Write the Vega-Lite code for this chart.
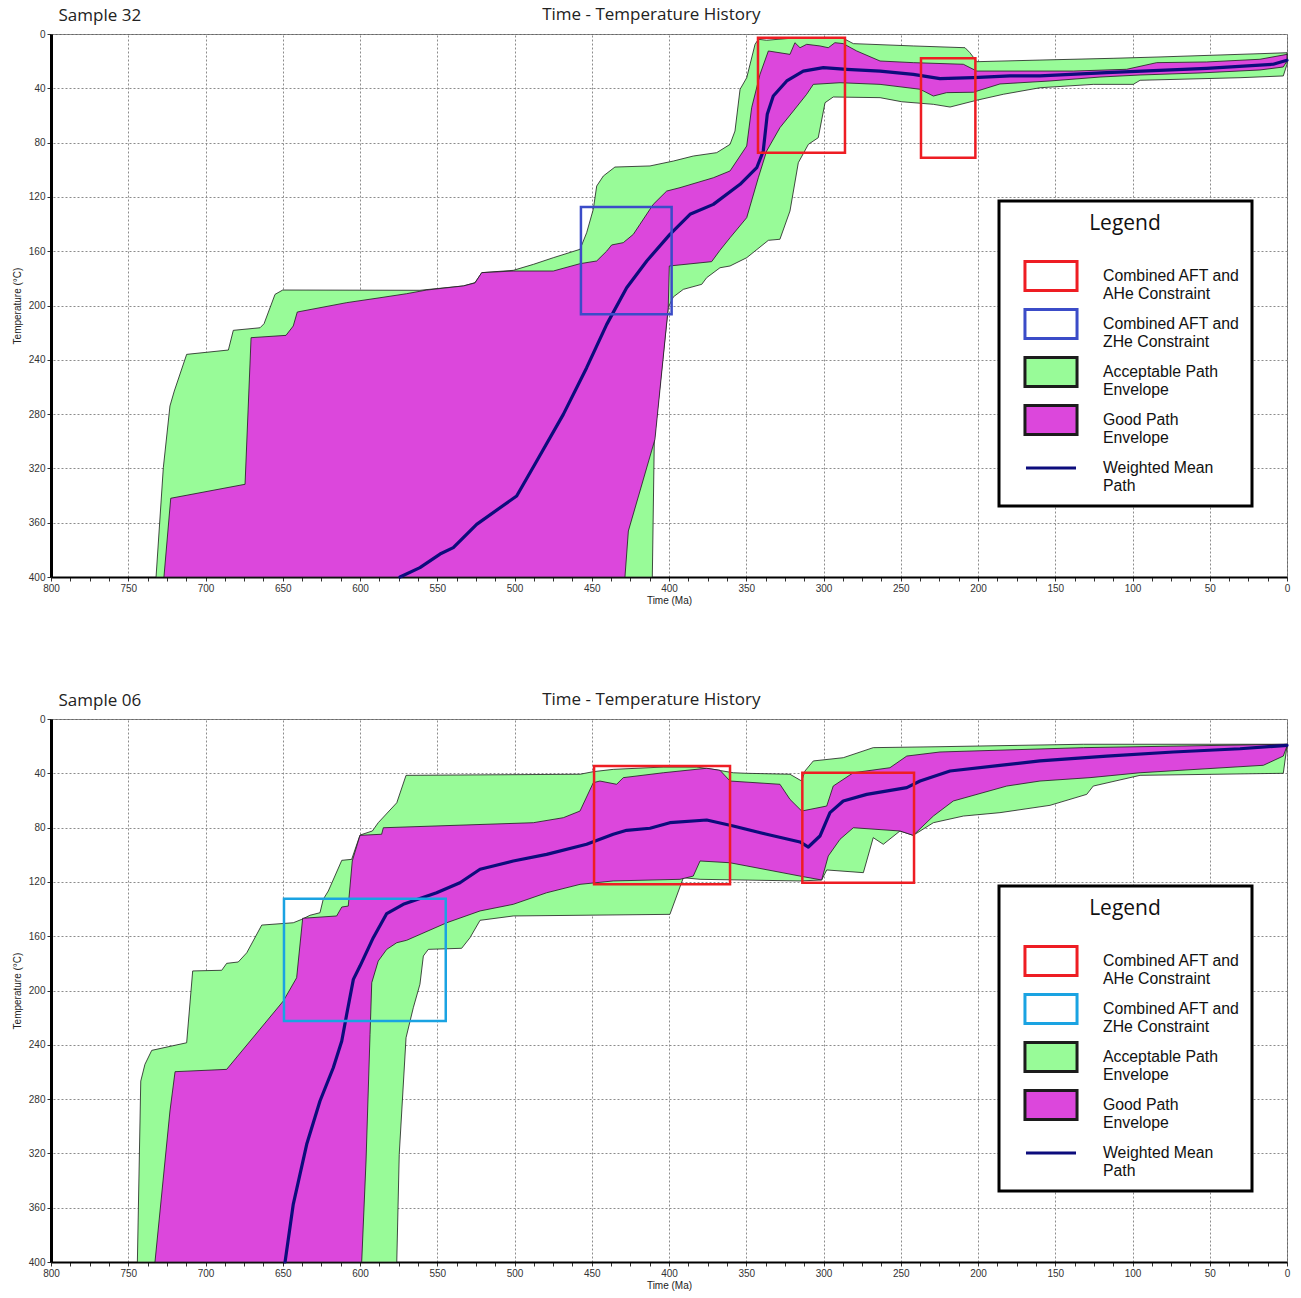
{
  "$schema": "https://vega.github.io/schema/vega-lite/v6.json",
  "background": "white",
  "padding": {"left": 11, "top": 5, "right": 5, "bottom": 5},
  "spacing": 84,
  "datasets": {
    "acceptable32": [
      {"i":0,"time":732.0,"temp":400},{"i":1,"time":727.3,"temp":319.5},{"i":2,"time":723.0,"temp":274.0},{"i":3,"time":720.2,"temp":263.0},
      {"i":4,"time":712.2,"temp":236.0},{"i":5,"time":685.2,"temp":232.8},{"i":6,"time":682.0,"temp":218.3},{"i":7,"time":664.7,"temp":216.4},
      {"i":8,"time":662.1,"temp":213.4},{"i":9,"time":655.0,"temp":191.8},{"i":10,"time":650.0,"temp":188.6},{"i":11,"time":561.2,"temp":188.8},
      {"i":12,"time":533.1,"temp":185.6},{"i":13,"time":525.6,"temp":183.2},{"i":14,"time":521.2,"temp":175.8},{"i":15,"time":500.8,"temp":174.1},
      {"i":16,"time":487.8,"temp":169.7},{"i":17,"time":474.9,"temp":164.8},{"i":18,"time":457.6,"temp":158.6},{"i":19,"time":453.3,"temp":146.4},
      {"i":20,"time":449.0,"temp":129.1},{"i":21,"time":446.8,"temp":112.0},{"i":22,"time":442.5,"temp":104.6},{"i":23,"time":435.0,"temp":98.0},
      {"i":24,"time":412.3,"temp":97.2},{"i":25,"time":397.2,"temp":93.6},{"i":26,"time":384.3,"temp":89.9},{"i":27,"time":369.1,"temp":87.4},
      {"i":28,"time":360.5,"temp":81.3},{"i":29,"time":357.3,"temp":71.5},{"i":30,"time":354.0,"temp":40.7},{"i":31,"time":349.7,"temp":32.2},
      {"i":32,"time":344.3,"temp":7.6},{"i":33,"time":342.2,"temp":3.9},{"i":34,"time":336.8,"temp":4.6},{"i":35,"time":321.7,"temp":3.2},
      {"i":36,"time":287.2,"temp":3.2},{"i":37,"time":280.7,"temp":7.1},{"i":38,"time":241.9,"temp":8.8},{"i":39,"time":208.4,"temp":10.1},
      {"i":40,"time":205.2,"temp":13.8},{"i":41,"time":200.8,"temp":20.4},{"i":42,"time":159.9,"temp":19.2},{"i":43,"time":112.6,"temp":17.9},
      {"i":44,"time":82.2,"temp":16.9},{"i":45,"time":17.5,"temp":14.5},{"i":46,"time":0,"temp":13.8},{"i":47,"time":0,"temp":22.3},
      {"i":48,"time":2.4,"temp":30.9},{"i":49,"time":30.4,"temp":32.2},{"i":50,"time":95.1,"temp":34.1},{"i":51,"time":99.5,"temp":37.1},
      {"i":52,"time":125.4,"temp":37.1},{"i":53,"time":159.9,"temp":39.6},{"i":54,"time":183.6,"temp":44.4},{"i":55,"time":200.8,"temp":48.8},
      {"i":56,"time":218.1,"temp":53.8},{"i":57,"time":228.9,"temp":51.8},{"i":58,"time":249.4,"temp":49.9},{"i":59,"time":263.4,"temp":46.9},
      {"i":60,"time":293.7,"temp":46.4},{"i":61,"time":299.0,"temp":50.6},{"i":62,"time":303.4,"temp":76.4},{"i":63,"time":309.8,"temp":81.3},
      {"i":64,"time":316.3,"temp":94.8},{"i":65,"time":321.7,"temp":130.4},{"i":66,"time":328.2,"temp":151.2},{"i":67,"time":335.7,"temp":152.0},
      {"i":68,"time":349.7,"temp":164.8},{"i":69,"time":360.5,"temp":170.9},{"i":70,"time":367.0,"temp":172.2},{"i":71,"time":375.6,"temp":179.5},
      {"i":72,"time":378.8,"temp":184.4},{"i":73,"time":390.7,"temp":188.1},{"i":74,"time":397.2,"temp":193.7},{"i":75,"time":400.5,"temp":201.6},
      {"i":76,"time":409.5,"temp":298.6},{"i":77,"time":410.8,"temp":400},{"i":78,"time":732.0,"temp":400}
    ],
    "good32": [
      {"i":0,"time":726.9,"temp":400},{"i":1,"time":722.5,"temp":342.0},{"i":2,"time":674.4,"temp":331.7},{"i":3,"time":670.5,"temp":223.7},
      {"i":4,"time":647.9,"temp":222.0},{"i":5,"time":643.2,"temp":215.1},{"i":6,"time":640.6,"temp":204.8},{"i":7,"time":608.6,"temp":197.9},
      {"i":8,"time":587.1,"temp":194.3},{"i":9,"time":569.8,"temp":191.3},{"i":10,"time":556.8,"temp":188.6},{"i":11,"time":533.1,"temp":185.6},
      {"i":12,"time":525.6,"temp":183.4},{"i":13,"time":521.2,"temp":175.8},{"i":14,"time":500.8,"temp":174.6},{"i":15,"time":474.9,"temp":174.6},
      {"i":16,"time":457.6,"temp":169.2},{"i":17,"time":446.8,"temp":167.2},{"i":18,"time":440.3,"temp":159.9},{"i":19,"time":437.1,"temp":155.4},
      {"i":20,"time":429.6,"temp":153.7},{"i":21,"time":423.1,"temp":147.6},{"i":22,"time":418.8,"temp":140.2},{"i":23,"time":410.2,"temp":125.5},
      {"i":24,"time":401.5,"temp":115.7},{"i":25,"time":392.9,"temp":113.2},{"i":26,"time":371.3,"temp":105.9},{"i":27,"time":360.5,"temp":100.9},
      {"i":28,"time":349.7,"temp":82.5},{"i":29,"time":346.5,"temp":54.3},{"i":30,"time":341.1,"temp":29.7},{"i":31,"time":335.7,"temp":12.5},
      {"i":32,"time":321.7,"temp":15.0},{"i":33,"time":318.5,"temp":6.4},{"i":34,"time":315.2,"temp":10.1},{"i":35,"time":310.9,"temp":7.6},
      {"i":36,"time":302.3,"temp":8.8},{"i":37,"time":296.9,"temp":10.1},{"i":38,"time":292.6,"temp":6.4},{"i":39,"time":287.2,"temp":7.1},
      {"i":40,"time":278.5,"temp":12.5},{"i":41,"time":263.4,"temp":19.9},{"i":42,"time":241.9,"temp":21.1},{"i":43,"time":209.5,"temp":22.3},
      {"i":44,"time":200.8,"temp":27.3},{"i":45,"time":138.3,"temp":27.3},{"i":46,"time":103.8,"temp":26.0},{"i":47,"time":84.3,"temp":21.1},
      {"i":48,"time":52.0,"temp":20.6},{"i":49,"time":17.5,"temp":18.6},{"i":50,"time":0,"temp":15.0},{"i":51,"time":0,"temp":19.9},
      {"i":52,"time":2.4,"temp":24.3},{"i":53,"time":17.5,"temp":26.5},{"i":54,"time":56.3,"temp":28.7},{"i":55,"time":95.1,"temp":30.2},
      {"i":56,"time":121.0,"temp":31.7},{"i":57,"time":153.4,"temp":34.6},{"i":58,"time":185.8,"temp":36.8},{"i":59,"time":203.0,"temp":42.9},
      {"i":60,"time":220.3,"temp":43.2},{"i":61,"time":228.9,"temp":45.7},{"i":62,"time":237.5,"temp":40.7},{"i":63,"time":263.4,"temp":37.1},
      {"i":64,"time":289.3,"temp":35.9},{"i":65,"time":306.6,"temp":37.1},{"i":66,"time":310.9,"temp":44.4},{"i":67,"time":319.5,"temp":56.7},
      {"i":68,"time":328.2,"temp":69.0},{"i":69,"time":336.8,"temp":86.2},{"i":70,"time":342.2,"temp":105.9},{"i":71,"time":349.7,"temp":135.3},
      {"i":72,"time":360.5,"temp":150.1},{"i":73,"time":367.0,"temp":159.3},{"i":74,"time":372.4,"temp":167.7},{"i":75,"time":399.8,"temp":170.9},
      {"i":76,"time":400.5,"temp":201.6},{"i":77,"time":409.1,"temp":298.6},{"i":78,"time":426.3,"temp":366.1},{"i":79,"time":428.5,"temp":400},
      {"i":80,"time":726.9,"temp":400}
    ],
    "mean32": [
      {"i":0,"time":574.1,"temp":400},{"i":1,"time":561.2,"temp":393.1},{"i":2,"time":548.2,"temp":383.1},{"i":3,"time":539.6,"temp":378.4},
      {"i":4,"time":524.5,"temp":361.2},{"i":5,"time":498.6,"temp":340.3},{"i":6,"time":485.6,"temp":314.5},{"i":7,"time":468.4,"temp":280.2},
      {"i":8,"time":453.3,"temp":245.8},{"i":9,"time":440.3,"temp":213.9},{"i":10,"time":427.4,"temp":186.9},{"i":11,"time":414.4,"temp":167.2},
      {"i":12,"time":399.4,"temp":147.6},{"i":13,"time":386.4,"temp":132.8},{"i":14,"time":371.3,"temp":125.5},{"i":15,"time":354.0,"temp":110.7},
      {"i":16,"time":343.2,"temp":98.5},{"i":17,"time":339.0,"temp":86.2},{"i":18,"time":336.4,"temp":59.2},{"i":19,"time":332.5,"temp":45.7},
      {"i":20,"time":323.8,"temp":34.6},{"i":21,"time":313.1,"temp":27.3},{"i":22,"time":300.1,"temp":24.8},{"i":23,"time":285.0,"temp":26.0},
      {"i":24,"time":263.4,"temp":27.3},{"i":25,"time":241.9,"temp":29.7},{"i":26,"time":224.6,"temp":32.9},{"i":27,"time":203.0,"temp":32.2},
      {"i":28,"time":179.3,"temp":30.9},{"i":29,"time":159.9,"temp":30.9},{"i":30,"time":116.7,"temp":28.4},{"i":31,"time":52.0,"temp":25.3},
      {"i":32,"time":8.9,"temp":22.3},{"i":33,"time":0,"temp":19.4}
    ],
    "boxes32": [
      {"series":"Combined AFT and AHe Constraint","t1":342.4,"t2":286.1,"T1":2.7,"T2":87.4},
      {"series":"Combined AFT and AHe Constraint","t1":236.9,"t2":201.7,"T1":17.9,"T2":91.1},
      {"series":"Combined AFT and ZHe Constraint","t1":457.0,"t2":398.3,"T1":127.4,"T2":206.5}
    ],
    "acceptable06": [
      {"i":0,"time":744.1,"temp":400},{"i":1,"time":741.9,"temp":266.7},{"i":2,"time":739.2,"temp":254.4},{"i":3,"time":734.8,"temp":244.1},
      {"i":4,"time":712.2,"temp":238.5},{"i":5,"time":708.3,"temp":185.6},{"i":6,"time":689.5,"temp":185.1},{"i":7,"time":686.3,"temp":180.0},
      {"i":8,"time":678.8,"temp":179.0},{"i":9,"time":673.3,"temp":172.2},{"i":10,"time":663.6,"temp":151.8},{"i":11,"time":643.2,"temp":150.1},
      {"i":12,"time":637.7,"temp":147.6},{"i":13,"time":632.4,"temp":144.6},{"i":14,"time":625.9,"temp":142.7},{"i":15,"time":623.8,"temp":132.8},
      {"i":16,"time":620.5,"temp":126.7},{"i":17,"time":611.8,"temp":104.1},{"i":18,"time":605.4,"temp":103.4},{"i":19,"time":600.0,"temp":85.5},
      {"i":20,"time":592.0,"temp":82.5},{"i":21,"time":588.2,"temp":76.4},{"i":22,"time":576.2,"temp":61.7},{"i":23,"time":570.2,"temp":41.5},
      {"i":24,"time":457.6,"temp":40.7},{"i":25,"time":449.0,"temp":38.8},{"i":26,"time":436.1,"temp":37.1},{"i":27,"time":403.7,"temp":35.4},
      {"i":28,"time":382.1,"temp":35.4},{"i":29,"time":371.3,"temp":37.1},{"i":30,"time":358.4,"temp":39.6},{"i":31,"time":349.7,"temp":40.0},
      {"i":32,"time":321.7,"temp":40.7},{"i":33,"time":314.1,"temp":45.7},{"i":34,"time":312.0,"temp":38.3},{"i":35,"time":306.6,"temp":30.9},
      {"i":36,"time":287.2,"temp":28.5},{"i":37,"time":267.8,"temp":21.1},{"i":38,"time":224.6,"temp":20.4},{"i":39,"time":131.8,"temp":18.6},
      {"i":40,"time":0,"temp":18.6},{"i":41,"time":0,"temp":19.9},{"i":42,"time":2.4,"temp":40.0},{"i":43,"time":95.1,"temp":41.5},
      {"i":44,"time":125.4,"temp":49.4},{"i":45,"time":129.6,"temp":55.5},{"i":46,"time":153.4,"temp":63.6},{"i":47,"time":185.8,"temp":69.0},
      {"i":48,"time":209.5,"temp":71.5},{"i":49,"time":228.9,"temp":76.4},{"i":50,"time":241.9,"temp":85.7},{"i":51,"time":250.5,"temp":82.5},
      {"i":52,"time":261.3,"temp":92.3},{"i":53,"time":267.8,"temp":87.4},{"i":54,"time":274.2,"temp":113.2},{"i":55,"time":297.9,"temp":111.2},
      {"i":56,"time":301.2,"temp":118.6},{"i":57,"time":315.2,"temp":119.3},{"i":58,"time":379.9,"temp":118.1},{"i":59,"time":390.7,"temp":116.9},
      {"i":60,"time":399.4,"temp":143.9},{"i":61,"time":500.8,"temp":145.1},{"i":62,"time":522.3,"temp":148.3},{"i":63,"time":528.8,"temp":161.1},
      {"i":64,"time":534.2,"temp":168.9},{"i":65,"time":555.8,"temp":169.7},{"i":66,"time":559.0,"temp":174.6},{"i":67,"time":561.2,"temp":195.4},
      {"i":68,"time":565.5,"temp":212.7},{"i":69,"time":570.2,"temp":234.8},{"i":70,"time":574.6,"temp":320.7},{"i":71,"time":576.2,"temp":400},
      {"i":72,"time":744.1,"temp":400}
    ],
    "good06": [
      {"i":0,"time":732.7,"temp":400},{"i":1,"time":723.0,"temp":288.8},{"i":2,"time":719.7,"temp":259.8},{"i":3,"time":686.3,"temp":258.1},
      {"i":4,"time":649.6,"temp":207.7},{"i":5,"time":641.0,"temp":190.6},{"i":6,"time":637.1,"temp":146.8},{"i":7,"time":615.1,"temp":145.1},
      {"i":8,"time":611.8,"temp":138.5},{"i":9,"time":607.6,"temp":137.8},{"i":10,"time":605.0,"temp":104.6},{"i":11,"time":600.0,"temp":85.7},
      {"i":12,"time":586.0,"temp":84.9},{"i":13,"time":584.9,"temp":80.1},{"i":14,"time":487.8,"temp":76.4},{"i":15,"time":468.4,"temp":72.7},
      {"i":16,"time":457.6,"temp":67.8},{"i":17,"time":449.0,"temp":46.9},{"i":18,"time":444.7,"temp":45.7},{"i":19,"time":433.9,"temp":48.1},
      {"i":20,"time":429.6,"temp":43.2},{"i":21,"time":403.7,"temp":39.6},{"i":22,"time":375.6,"temp":36.3},{"i":23,"time":367.0,"temp":37.8},
      {"i":24,"time":360.5,"temp":45.7},{"i":25,"time":328.2,"temp":48.1},{"i":26,"time":321.7,"temp":59.2},{"i":27,"time":314.1,"temp":67.8},
      {"i":28,"time":297.9,"temp":64.1},{"i":29,"time":293.7,"temp":49.4},{"i":30,"time":280.7,"temp":39.6},{"i":31,"time":257.0,"temp":35.9},
      {"i":32,"time":246.1,"temp":27.3},{"i":33,"time":224.6,"temp":24.3},{"i":34,"time":131.8,"temp":21.1},{"i":35,"time":0,"temp":18.6},
      {"i":36,"time":0,"temp":19.9},{"i":37,"time":2.4,"temp":27.3},{"i":38,"time":15.3,"temp":34.1},{"i":39,"time":95.1,"temp":39.6},
      {"i":40,"time":127.5,"temp":43.2},{"i":41,"time":159.9,"temp":45.7},{"i":42,"time":181.4,"temp":49.4},{"i":43,"time":216.0,"temp":60.4},
      {"i":44,"time":228.9,"temp":71.5},{"i":45,"time":241.9,"temp":85.7},{"i":46,"time":250.5,"temp":82.5},{"i":47,"time":280.7,"temp":80.1},
      {"i":48,"time":289.3,"temp":88.6},{"i":49,"time":296.9,"temp":100.9},{"i":50,"time":301.2,"temp":118.6},{"i":51,"time":315.2,"temp":115.7},
      {"i":52,"time":360.5,"temp":105.9},{"i":53,"time":379.9,"temp":104.6},{"i":54,"time":384.3,"temp":115.7},{"i":55,"time":392.9,"temp":118.1},
      {"i":56,"time":436.1,"temp":119.3},{"i":57,"time":457.6,"temp":121.8},{"i":58,"time":479.2,"temp":128.0},{"i":59,"time":500.8,"temp":136.5},
      {"i":60,"time":522.3,"temp":141.4},{"i":61,"time":543.9,"temp":150.1},{"i":62,"time":569.8,"temp":163.0},{"i":63,"time":576.2,"temp":164.8},
      {"i":64,"time":582.7,"temp":169.7},{"i":65,"time":588.2,"temp":178.3},{"i":66,"time":592.4,"temp":194.3},{"i":67,"time":593.5,"temp":232.3},
      {"i":68,"time":596.1,"temp":325.6},{"i":69,"time":598.9,"temp":400},{"i":70,"time":732.7,"temp":400}
    ],
    "mean06": [
      {"i":0,"time":648.5,"temp":400},{"i":1,"time":643.2,"temp":357.5},{"i":2,"time":634.5,"temp":313.3},{"i":3,"time":625.9,"temp":281.4},
      {"i":4,"time":617.3,"temp":256.9},{"i":5,"time":611.8,"temp":237.2},{"i":6,"time":608.6,"temp":217.5},{"i":7,"time":604.3,"temp":191.8},
      {"i":8,"time":600.0,"temp":182.0},{"i":9,"time":591.4,"temp":161.1},{"i":10,"time":582.7,"temp":143.3},{"i":11,"time":572.0,"temp":136.5},
      {"i":12,"time":550.4,"temp":128.0},{"i":13,"time":535.3,"temp":120.6},{"i":14,"time":522.3,"temp":110.7},{"i":15,"time":500.8,"temp":104.6},
      {"i":16,"time":479.2,"temp":99.7},{"i":17,"time":453.3,"temp":92.3},{"i":18,"time":436.1,"temp":84.9},{"i":19,"time":427.4,"temp":82.0},
      {"i":20,"time":412.3,"temp":80.5},{"i":21,"time":399.4,"temp":76.4},{"i":22,"time":375.6,"temp":74.4},{"i":23,"time":358.4,"temp":78.8},
      {"i":24,"time":336.8,"temp":84.9},{"i":25,"time":315.2,"temp":90.6},{"i":26,"time":309.8,"temp":94.3},{"i":27,"time":302.3,"temp":86.2},
      {"i":28,"time":295.8,"temp":69.0},{"i":29,"time":287.2,"temp":60.4},{"i":30,"time":272.0,"temp":55.5},{"i":31,"time":246.1,"temp":50.6},
      {"i":32,"time":237.5,"temp":45.7},{"i":33,"time":218.1,"temp":38.3},{"i":34,"time":185.8,"temp":34.1},{"i":35,"time":159.9,"temp":30.9},
      {"i":36,"time":116.7,"temp":27.3},{"i":37,"time":73.6,"temp":24.3},{"i":38,"time":30.4,"temp":21.9},{"i":39,"time":0,"temp":19.4}
    ],
    "boxes06": [
      {"series":"Combined AFT and ZHe Constraint","t1":649.2,"t2":544.5,"T1":132.4,"T2":222.5},
      {"series":"Combined AFT and AHe Constraint","t1":448.5,"t2":360.5,"T1":34.6,"T2":121.8},
      {"series":"Combined AFT and AHe Constraint","t1":313.7,"t2":241.4,"T1":39.6,"T2":120.6}
    ]
  },
  "vconcat": [
    {
      "width": 1236,
      "height": 543,
      "title": {"text": "Time - Temperature History", "anchor": "middle", "frame": "bounds", "offset": -18},
      "resolve": {"axis": {"x": "independent"}},
      "layer": [
        {
          "data": {"name": "acceptable32"},
          "mark": {"type": "line", "filled": true},
          "encoding": {
            "order": {"field": "i", "type": "quantitative"},
            "x": {"field": "time", "type": "quantitative", "title": "Time (Ma)",
              "scale": {"domain": [0, 800], "reverse": true, "nice": false, "zero": false},
              "axis": {"values": [0,12.5,25,37.5,50,62.5,75,87.5,100,112.5,125,137.5,150,162.5,175,187.5,200,212.5,225,237.5,250,262.5,275,287.5,300,312.5,325,337.5,350,362.5,375,387.5,400,412.5,425,437.5,450,462.5,475,487.5,500,512.5,525,537.5,550,562.5,575,587.5,600,612.5,625,637.5,650,662.5,675,687.5,700,712.5,725,737.5,750,762.5,775,787.5,800],
                "labelExpr": "datum.value % 50 === 0 ? datum.label : ''",
                "gridOpacity": {"condition": {"test": "datum.value % 50 === 0", "value": 1}, "value": 0},
                "labelOverlap": false, "labelFlush": false}},
            "y": {"field": "temp", "type": "quantitative", "title": "Temperature (°C)",
              "scale": {"domain": [0, 400], "reverse": true, "nice": false, "zero": false},
              "axis": {"values": [0,10,20,30,40,50,60,70,80,90,100,110,120,130,140,150,160,170,180,190,200,210,220,230,240,250,260,270,280,290,300,310,320,330,340,350,360,370,380,390,400],
                "labelExpr": "datum.value % 40 === 0 ? datum.label : ''",
                "gridOpacity": {"condition": {"test": "datum.value % 40 === 0", "value": 1}, "value": 0},
                "labelOverlap": false, "labelFlush": false}},
            "fill": {"datum": "Acceptable Path Envelope", "type": "nominal",
              "scale": {"domain": ["Combined AFT and AHe Constraint", "Combined AFT and ZHe Constraint", "Acceptable Path Envelope", "Good Path Envelope", "Weighted Mean Path"],
                "range": ["#ffffff", "#ffffff", "#98fb98", "#dc47dc", "#ffffff"]},
              "legend": {
                "orient": "none", "legendX": 948, "legendY": 167, "title": "Legend",
                "labelExpr": "datum.label === 'Combined AFT and AHe Constraint' ? ['Combined AFT and', 'AHe Constraint'] : datum.label === 'Combined AFT and ZHe Constraint' ? ['Combined AFT and', 'ZHe Constraint'] : datum.label === 'Acceptable Path Envelope' ? ['Acceptable Path', 'Envelope'] : datum.label === 'Good Path Envelope' ? ['Good Path', 'Envelope'] : ['Weighted Mean', 'Path']"
              }},
            "stroke": {"datum": "Acceptable Path Envelope", "type": "nominal",
              "scale": {"domain": ["Combined AFT and AHe Constraint", "Combined AFT and ZHe Constraint", "Acceptable Path Envelope", "Good Path Envelope", "Weighted Mean Path"],
                "range": ["#ee1d23", "#3b4cc8", "#1c1c1c", "#1c1c1c", "#0c0c7c"]},
              "legend": {
                "orient": "none", "legendX": 948, "legendY": 167, "title": "Legend",
                "labelExpr": "datum.label === 'Combined AFT and AHe Constraint' ? ['Combined AFT and', 'AHe Constraint'] : datum.label === 'Combined AFT and ZHe Constraint' ? ['Combined AFT and', 'ZHe Constraint'] : datum.label === 'Acceptable Path Envelope' ? ['Acceptable Path', 'Envelope'] : datum.label === 'Good Path Envelope' ? ['Good Path', 'Envelope'] : ['Weighted Mean', 'Path']"
              }},
            "strokeWidth": {"value": 0.8}
          }
        },
        {
          "data": {"name": "good32"},
          "mark": {"type": "line", "filled": true},
          "encoding": {
            "order": {"field": "i", "type": "quantitative"},
            "x": {"field": "time", "type": "quantitative", "axis": null},
            "y": {"field": "temp", "type": "quantitative", "title": "Temperature (°C)"},
            "fill": {"datum": "Good Path Envelope", "type": "nominal"},
            "stroke": {"datum": "Good Path Envelope", "type": "nominal"},
            "strokeWidth": {"value": 0.8}
          }
        },
        {
          "data": {"name": "mean32"},
          "mark": {"type": "line", "strokeJoin": "round", "strokeCap": "round"},
          "encoding": {
            "order": {"field": "i", "type": "quantitative"},
            "x": {"field": "time", "type": "quantitative",
              "axis": {"orient": "top", "title": "Sample 32", "titleAnchor": "start", "titleAlign": "left", "titleX": 7, "titleY": -14, "titleBaseline": "alphabetic",
                "titleFont": "Open Sans", "titleFontSize": 17, "titleFontWeight": "normal", "titleColor": "#222",
                "labels": false, "ticks": false, "domain": false, "grid": false}},
            "y": {"field": "temp", "type": "quantitative", "title": "Temperature (°C)"},
            "stroke": {"datum": "Weighted Mean Path", "type": "nominal"},
            "strokeWidth": {"value": 3.2}
          }
        },
        {
          "data": {"name": "boxes32"},
          "mark": {"type": "rect", "filled": false},
          "encoding": {
            "x": {"field": "t1", "type": "quantitative", "axis": null},
            "x2": {"field": "t2"},
            "y": {"field": "T1", "type": "quantitative", "title": "Temperature (°C)"},
            "y2": {"field": "T2"},
            "stroke": {"field": "series", "type": "nominal"},
            "strokeWidth": {"value": 2.5}
          }
        },
        {
          "data": {"name": "mean32"},
          "mark": {"type": "point", "filled": false},
          "encoding": {
            "x": {"field": "time", "type": "quantitative", "axis": null},
            "y": {"field": "temp", "type": "quantitative", "title": "Temperature (°C)"},
            "shape": {"datum": "Weighted Mean Path", "type": "nominal",
              "scale": {"domain": ["Combined AFT and AHe Constraint", "Combined AFT and ZHe Constraint", "Acceptable Path Envelope", "Good Path Envelope", "Weighted Mean Path"],
                "range": ["M-1.27,-0.71H1.27V0.71H-1.27Z", "M-1.27,-0.71H1.27V0.71H-1.27Z", "M-1.27,-0.71H1.27V0.71H-1.27Z", "M-1.27,-0.71H1.27V0.71H-1.27Z", "M-1.22,0H1.22"]},
              "legend": {
                "orient": "none", "legendX": 948, "legendY": 167, "title": "Legend",
                "labelExpr": "datum.label === 'Combined AFT and AHe Constraint' ? ['Combined AFT and', 'AHe Constraint'] : datum.label === 'Combined AFT and ZHe Constraint' ? ['Combined AFT and', 'ZHe Constraint'] : datum.label === 'Acceptable Path Envelope' ? ['Acceptable Path', 'Envelope'] : datum.label === 'Good Path Envelope' ? ['Good Path', 'Envelope'] : ['Weighted Mean', 'Path']"
              }},
            "opacity": {"value": 0}
          }
        }
      ]
    },
    {
      "width": 1236,
      "height": 543,
      "title": {"text": "Time - Temperature History", "anchor": "middle", "frame": "bounds", "offset": -18},
      "resolve": {"axis": {"x": "independent"}},
      "layer": [
        {
          "data": {"name": "acceptable06"},
          "mark": {"type": "line", "filled": true},
          "encoding": {
            "order": {"field": "i", "type": "quantitative"},
            "x": {"field": "time", "type": "quantitative", "title": "Time (Ma)",
              "scale": {"domain": [0, 800], "reverse": true, "nice": false, "zero": false},
              "axis": {"values": [0,12.5,25,37.5,50,62.5,75,87.5,100,112.5,125,137.5,150,162.5,175,187.5,200,212.5,225,237.5,250,262.5,275,287.5,300,312.5,325,337.5,350,362.5,375,387.5,400,412.5,425,437.5,450,462.5,475,487.5,500,512.5,525,537.5,550,562.5,575,587.5,600,612.5,625,637.5,650,662.5,675,687.5,700,712.5,725,737.5,750,762.5,775,787.5,800],
                "labelExpr": "datum.value % 50 === 0 ? datum.label : ''",
                "gridOpacity": {"condition": {"test": "datum.value % 50 === 0", "value": 1}, "value": 0},
                "labelOverlap": false, "labelFlush": false}},
            "y": {"field": "temp", "type": "quantitative", "title": "Temperature (°C)",
              "scale": {"domain": [0, 400], "reverse": true, "nice": false, "zero": false},
              "axis": {"values": [0,10,20,30,40,50,60,70,80,90,100,110,120,130,140,150,160,170,180,190,200,210,220,230,240,250,260,270,280,290,300,310,320,330,340,350,360,370,380,390,400],
                "labelExpr": "datum.value % 40 === 0 ? datum.label : ''",
                "gridOpacity": {"condition": {"test": "datum.value % 40 === 0", "value": 1}, "value": 0},
                "labelOverlap": false, "labelFlush": false}},
            "fill": {"datum": "Acceptable Path Envelope", "type": "nominal",
              "scale": {"domain": ["Combined AFT and AHe Constraint", "Combined AFT and ZHe Constraint", "Acceptable Path Envelope", "Good Path Envelope", "Weighted Mean Path"],
                "range": ["#ffffff", "#ffffff", "#98fb98", "#dc47dc", "#ffffff"]},
              "legend": {
                "orient": "none", "legendX": 948, "legendY": 167, "title": "Legend",
                "labelExpr": "datum.label === 'Combined AFT and AHe Constraint' ? ['Combined AFT and', 'AHe Constraint'] : datum.label === 'Combined AFT and ZHe Constraint' ? ['Combined AFT and', 'ZHe Constraint'] : datum.label === 'Acceptable Path Envelope' ? ['Acceptable Path', 'Envelope'] : datum.label === 'Good Path Envelope' ? ['Good Path', 'Envelope'] : ['Weighted Mean', 'Path']"
              }},
            "stroke": {"datum": "Acceptable Path Envelope", "type": "nominal",
              "scale": {"domain": ["Combined AFT and AHe Constraint", "Combined AFT and ZHe Constraint", "Acceptable Path Envelope", "Good Path Envelope", "Weighted Mean Path"],
                "range": ["#ee1d23", "#1aa3e2", "#1c1c1c", "#1c1c1c", "#0c0c7c"]},
              "legend": {
                "orient": "none", "legendX": 948, "legendY": 167, "title": "Legend",
                "labelExpr": "datum.label === 'Combined AFT and AHe Constraint' ? ['Combined AFT and', 'AHe Constraint'] : datum.label === 'Combined AFT and ZHe Constraint' ? ['Combined AFT and', 'ZHe Constraint'] : datum.label === 'Acceptable Path Envelope' ? ['Acceptable Path', 'Envelope'] : datum.label === 'Good Path Envelope' ? ['Good Path', 'Envelope'] : ['Weighted Mean', 'Path']"
              }},
            "strokeWidth": {"value": 0.8}
          }
        },
        {
          "data": {"name": "good06"},
          "mark": {"type": "line", "filled": true},
          "encoding": {
            "order": {"field": "i", "type": "quantitative"},
            "x": {"field": "time", "type": "quantitative", "axis": null},
            "y": {"field": "temp", "type": "quantitative", "title": "Temperature (°C)"},
            "fill": {"datum": "Good Path Envelope", "type": "nominal"},
            "stroke": {"datum": "Good Path Envelope", "type": "nominal"},
            "strokeWidth": {"value": 0.8}
          }
        },
        {
          "data": {"name": "mean06"},
          "mark": {"type": "line", "strokeJoin": "round", "strokeCap": "round"},
          "encoding": {
            "order": {"field": "i", "type": "quantitative"},
            "x": {"field": "time", "type": "quantitative",
              "axis": {"orient": "top", "title": "Sample 06", "titleAnchor": "start", "titleAlign": "left", "titleX": 7, "titleY": -14, "titleBaseline": "alphabetic",
                "titleFont": "Open Sans", "titleFontSize": 17, "titleFontWeight": "normal", "titleColor": "#222",
                "labels": false, "ticks": false, "domain": false, "grid": false}},
            "y": {"field": "temp", "type": "quantitative", "title": "Temperature (°C)"},
            "stroke": {"datum": "Weighted Mean Path", "type": "nominal"},
            "strokeWidth": {"value": 3.2}
          }
        },
        {
          "data": {"name": "boxes06"},
          "mark": {"type": "rect", "filled": false},
          "encoding": {
            "x": {"field": "t1", "type": "quantitative", "axis": null},
            "x2": {"field": "t2"},
            "y": {"field": "T1", "type": "quantitative", "title": "Temperature (°C)"},
            "y2": {"field": "T2"},
            "stroke": {"field": "series", "type": "nominal"},
            "strokeWidth": {"value": 2.5}
          }
        },
        {
          "data": {"name": "mean06"},
          "mark": {"type": "point", "filled": false},
          "encoding": {
            "x": {"field": "time", "type": "quantitative", "axis": null},
            "y": {"field": "temp", "type": "quantitative", "title": "Temperature (°C)"},
            "shape": {"datum": "Weighted Mean Path", "type": "nominal",
              "scale": {"domain": ["Combined AFT and AHe Constraint", "Combined AFT and ZHe Constraint", "Acceptable Path Envelope", "Good Path Envelope", "Weighted Mean Path"],
                "range": ["M-1.27,-0.71H1.27V0.71H-1.27Z", "M-1.27,-0.71H1.27V0.71H-1.27Z", "M-1.27,-0.71H1.27V0.71H-1.27Z", "M-1.27,-0.71H1.27V0.71H-1.27Z", "M-1.22,0H1.22"]},
              "legend": {
                "orient": "none", "legendX": 948, "legendY": 167, "title": "Legend",
                "labelExpr": "datum.label === 'Combined AFT and AHe Constraint' ? ['Combined AFT and', 'AHe Constraint'] : datum.label === 'Combined AFT and ZHe Constraint' ? ['Combined AFT and', 'ZHe Constraint'] : datum.label === 'Acceptable Path Envelope' ? ['Acceptable Path', 'Envelope'] : datum.label === 'Good Path Envelope' ? ['Good Path', 'Envelope'] : ['Weighted Mean', 'Path']"
              }},
            "opacity": {"value": 0}
          }
        }
      ]
    }
  ],
  "resolve": {
    "scale": {"fill": "independent", "stroke": "independent", "shape": "independent"},
    "legend": {"fill": "independent", "stroke": "independent", "shape": "independent"}
  },
  "config": {
    "font": "Liberation Sans",
    "view": {"stroke": "#666666", "strokeWidth": 1},
    "title": {"font": "Open Sans", "fontSize": 17, "fontWeight": "normal", "color": "#222222"},
    "axis": {
      "labelFont": "Liberation Sans", "labelFontSize": 10, "labelColor": "#333333",
      "titleFont": "Liberation Sans", "titleFontSize": 10, "titleFontWeight": "normal", "titleColor": "#222222",
      "tickColor": "#333333", "tickSize": 4, "tickWidth": 1,
      "gridColor": "#8c8c8c", "gridDash": [2, 2], "gridWidth": 1,
      "domainColor": "#000000"
    },
    "axisBottom": {"domainWidth": 2, "labelPadding": 2, "titlePadding": 2},
    "axisLeft": {"domainWidth": 3, "labelPadding": 2, "titlePadding": 6},
    "legend": {
      "strokeColor": "#000000", "fillColor": "#ffffff", "padding": 12, "strokeWidth": 3,
      "titleFont": "Open Sans", "titleFontSize": 21, "titleFontWeight": "normal", "titleColor": "#111111",
      "titleAnchor": "middle", "titlePadding": 20,
      "labelFont": "Liberation Sans", "labelFontSize": 15.8, "labelColor": "#111111", "labelLimit": 400,
      "labelOffset": 30, "rowPadding": 0, "symbolOffset": 18,
      "symbolType": "M-1.27,-0.71H1.27V0.71H-1.27Z", "symbolSize": 1681, "symbolStrokeWidth": 3,
      "symbolOpacity": 1
    }
  }
}
